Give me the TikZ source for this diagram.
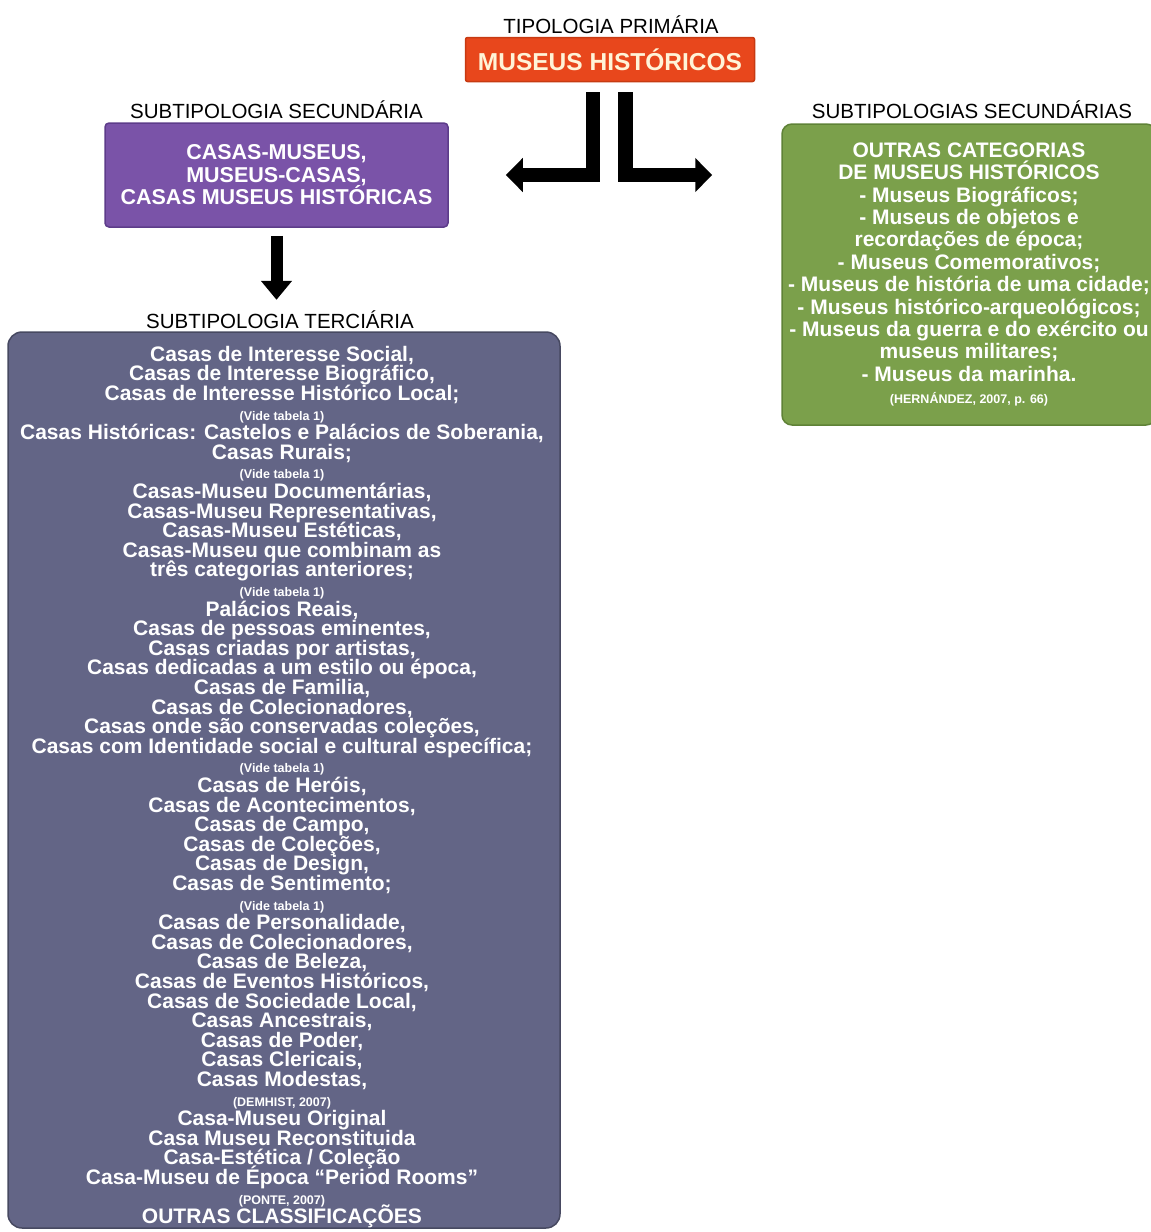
\documentclass[tikz,border=0pt]{standalone}
\usepackage{fontspec}
\setmainfont{Liberation Sans}
\usetikzlibrary{arrows.meta}

\definecolor{primOrange}{HTML}{E8471C}
\definecolor{primEdge}{HTML}{C73A12}
\definecolor{primText}{HTML}{FFF4D8}
\definecolor{secPurple}{HTML}{7A53A8}
\definecolor{secEdge}{HTML}{5D3C8A}
\definecolor{outGreen}{HTML}{7BA04B}
\definecolor{outEdge}{HTML}{5F8237}
\definecolor{terSlate}{HTML}{636586}
\definecolor{terEdge}{HTML}{474961}

\newcommand{\refline}[1]{{\fontsize{12.5}{19.6}\selectfont #1}}
\newcommand{\tightlines}{\lineskiplimit=-100pt\lineskip=0pt}

\begin{document}
\begin{tikzpicture}[x=1pt, y=-1pt,
	heading/.style={font=\fontsize{20.5}{22}\selectfont, inner sep=0pt},
	catbox/.style={draw, line width=1.5pt, align=center, inner sep=0pt, font=\bfseries},
	bigarrow/.style={line width=14.5pt, -{Triangle[length=17pt, width=33pt]}},
	downarrow/.style={line width=12pt, -{Triangle[length=19pt, width=30pt]}}]
	\useasboundingbox (0,0) rectangle (1151,1232);

	\node[heading] (primLabel) at (611,25) {TIPOLOGIA PRIMÁRIA};
	\node[catbox, fill=primOrange, draw=primEdge, text=primText, rounded corners=2pt,
		minimum width=289pt, minimum height=44pt,
		font=\bfseries\fontsize{24.5}{26}\selectfont] (prim) at (610,59.5) {MUSEUS HISTÓRICOS};

	\node[heading] (secLabel) at (276.5,110) {SUBTIPOLOGIA SECUNDÁRIA};
	\node[catbox, fill=secPurple, draw=secEdge, text=white, rounded corners=4pt,
		minimum width=343pt, minimum height=104pt,
		font=\bfseries\fontsize{21.5}{22.5}\selectfont\tightlines] (sec) at (276.5,175)
		{CASAS-MUSEUS,\\ MUSEUS-CASAS,\\ CASAS MUSEUS HISTÓRICAS};

	\node[heading] (outLabel) at (972,110) {SUBTIPOLOGIAS SECUNDÁRIAS};
	\node[catbox, fill=outGreen, draw=outEdge, text=white, rounded corners=10pt,
		minimum width=374pt, minimum height=301pt,
		font=\bfseries\fontsize{21}{22.4}\selectfont\tightlines] (out) at (969,274.5)
		{OUTRAS CATEGORIAS\\ DE MUSEUS HISTÓRICOS\\ - Museus Biográficos;\\
		- Museus de objetos e\\ recordações de época;\\ - Museus Comemorativos;\\
		- Museus de história de uma cidade;\\ - Museus histórico-arqueológicos;\\
		- Museus da guerra e do exército ou\\ museus militares;\\ - Museus da marinha.\\
		\refline{(HERNÁNDEZ, 2007, p. 66)}};

	\node[heading] (terLabel) at (280,320) {SUBTIPOLOGIA TERCIÁRIA};
	\node[catbox, fill=terSlate, draw=terEdge, rounded corners=14pt,
		minimum width=552pt, minimum height=896pt] (ter) at (284,780) {};
	\node[align=center, text=white, font=\bfseries\fontsize{21}{19.6}\selectfont\tightlines] (terList) at (282,787)
		{Casas de Interesse Social,\\ Casas de Interesse Biográfico,\\ Casas de Interesse Histórico Local;\\
		\refline{(Vide tabela 1)}\\
		Casas Históricas: Castelos e Palácios de Soberania,\\ Casas Rurais;\\
		\refline{(Vide tabela 1)}\\
		Casas-Museu Documentárias,\\ Casas-Museu Representativas,\\ Casas-Museu Estéticas,\\
		Casas-Museu que combinam as\\ três categorias anteriores;\\
		\refline{(Vide tabela 1)}\\
		Palácios Reais,\\ Casas de pessoas eminentes,\\ Casas criadas por artistas,\\
		Casas dedicadas a um estilo ou época,\\ Casas de Familia,\\ Casas de Colecionadores,\\
		Casas onde são conservadas coleções,\\ Casas com Identidade social e cultural específica;\\
		\refline{(Vide tabela 1)}\\
		Casas de Heróis,\\ Casas de Acontecimentos,\\ Casas de Campo,\\ Casas de Coleções,\\
		Casas de Design,\\ Casas de Sentimento;\\
		\refline{(Vide tabela 1)}\\
		Casas de Personalidade,\\ Casas de Colecionadores,\\ Casas de Beleza,\\
		Casas de Eventos Históricos,\\ Casas de Sociedade Local,\\ Casas Ancestrais,\\
		Casas de Poder,\\ Casas Clericais,\\ Casas Modestas,\\
		\refline{(DEMHIST, 2007)}\\
		Casa-Museu Original\\ Casa Museu Reconstituida\\ Casa-Estética / Coleção\\
		Casa-Museu de Época “Period Rooms”\\
		\refline{(PONTE, 2007)}\\
		OUTRAS CLASSIFICAÇÕES};

	% the two branches out of the primary type
	\draw[bigarrow, shorten >=57pt] ([xshift=-17pt, yshift=-10pt]prim.south) |- (sec.east);
	\draw[bigarrow, shorten >=69pt] ([xshift=15.5pt, yshift=-10pt]prim.south) |- (out.west |- sec.east);

	\draw[downarrow, shorten <=8pt, shorten >=11pt] (sec.south) -- (sec.south |- terLabel.north);
\end{tikzpicture}
\end{document}
